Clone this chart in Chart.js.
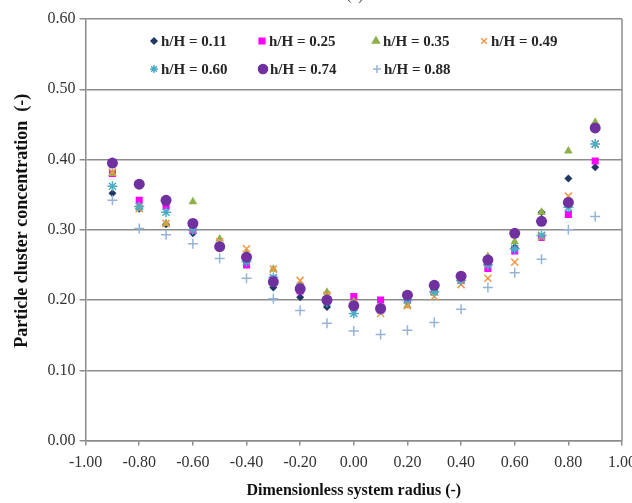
<!DOCTYPE html>
<html>
<head>
<meta charset="utf-8">
<script src="https://cdn.jsdelivr.net/npm/chart.js@4.4.0/dist/chart.umd.min.js"></script>
<style>
  html, body { margin: 0; padding: 0; background: #fff; }
  #wrap { width: 632px; height: 503px; }
</style>
</head>
<body>
<div id="wrap"><canvas id="myChart" width="632" height="503"></canvas></div>
<script>
// dimensionless radius positions
var radius = [-0.9, -0.8, -0.7, -0.6, -0.5, -0.4, -0.3, -0.2, -0.1, 0, 0.1, 0.2, 0.3, 0.4, 0.5, 0.6, 0.7, 0.8, 0.9];

// concentration, one list per height
var h011 = [0.352, 0.330, 0.308, 0.295, 0.275, 0.255, 0.218, 0.204, 0.190, 0.195, 0.190, 0.200, 0.210, 0.228, 0.250, 0.275, 0.325, 0.373, 0.389];
var h025 = [0.380, 0.342, 0.334, 0.299, 0.276, 0.250, 0.230, 0.213, 0.200, 0.205, 0.200, 0.200, 0.212, 0.228, 0.245, 0.270, 0.289, 0.322, 0.398];
var h035 = [0.380, 0.333, 0.309, 0.340, 0.287, 0.266, 0.244, 0.222, 0.211, 0.198, 0.190, 0.192, 0.210, 0.232, 0.262, 0.283, 0.325, 0.412, 0.453];
var h049 = [0.382, 0.330, 0.309, 0.300, 0.283, 0.273, 0.244, 0.228, 0.207, 0.195, 0.181, 0.192, 0.205, 0.222, 0.231, 0.254, 0.290, 0.348, 0.422];
var h060 = [0.362, 0.333, 0.325, 0.300, 0.277, 0.255, 0.232, 0.218, 0.197, 0.181, 0.186, 0.200, 0.212, 0.228, 0.250, 0.273, 0.292, 0.332, 0.422];
var h074 = [0.395, 0.365, 0.342, 0.309, 0.276, 0.261, 0.226, 0.216, 0.200, 0.192, 0.188, 0.207, 0.221, 0.234, 0.257, 0.295, 0.312, 0.339, 0.445];
var h088 = [0.342, 0.302, 0.293, 0.280, 0.259, 0.231, 0.202, 0.185, 0.167, 0.156, 0.151, 0.157, 0.168, 0.187, 0.218, 0.239, 0.258, 0.300, 0.319];

var seriesLabels = ['h/H = 0.11', 'h/H = 0.25', 'h/H = 0.35', 'h/H = 0.49', 'h/H = 0.60', 'h/H = 0.74', 'h/H = 0.88'];
var seriesValues = [h011, h025, h035, h049, h060, h074, h088];

// marker look for each series
var markers = [
  { style: 'rectRot', color: '#1F3864', r: 4, fill: true },
  { style: 'rect', color: '#FF00FF', r: 5, fill: true },
  { style: 'triangle', color: '#8DB04A', r: 5, fill: true },
  { style: 'crossRot', color: '#F79646', r: 5, fill: false },
  { style: 'star', color: '#4BACC6', r: 5, fill: false },
  { style: 'circle', color: '#7030A0', r: 5.5, fill: true },
  { style: 'cross', color: '#95B3D7', r: 5, fill: false }
];

var datasets = seriesValues.map(function (vals, i) {
  var m = markers[i];
  return {
    label: seriesLabels[i],
    data: vals.map(function (v, j) { return { x: radius[j], y: v }; }),
    showLine: false,
    pointStyle: m.style,
    pointRadius: m.r,
    pointHoverRadius: m.r,
    pointBackgroundColor: m.fill ? m.color : 'transparent',
    pointBorderColor: m.color,
    pointBorderWidth: m.fill ? 0 : 1.5,
    order: 6 - i   // later series drawn on top, like Excel
  };
});

var fmt = function (v) {
  if (Math.abs(v) < 1e-9) v = 0;
  return v.toFixed(2);
};

// legend drawn inside the plot area, Excel style
var insideLegend = {
  id: 'insideLegend',
  afterDraw: function (chart) {
    var c = chart.ctx, a = chart.chartArea;
    // right frame line
    c.save();
    c.strokeStyle = '#8c8c8c';
    c.lineWidth = 1.5;
    c.beginPath();
    c.moveTo(a.right, a.top);
    c.lineTo(a.right, a.bottom);
    c.stroke();

    var pos = [
      [154, 41], [262, 41], [376, 41], [484, 41],
      [154, 69], [263, 69], [377, 69]
    ];
    c.font = 'bold 15px "Liberation Serif", "Times New Roman", serif';
    c.textBaseline = 'middle';
    pos.forEach(function (p, i) {
      var m = markers[i];
      c.fillStyle = m.fill ? m.color : 'transparent';
      c.strokeStyle = m.color;
      c.lineWidth = m.fill ? 0 : 1.5;
      Chart.helpers.drawPoint(c, { pointStyle: m.style, radius: m.r - 1, borderWidth: c.lineWidth }, p[0], p[1]);
      if (m.fill) c.fill();
      c.fillStyle = '#262626';
      c.fillText(seriesLabels[i], p[0] + 7, p[1] + 1);
    });

    // clipped panel tag at the very top
    c.textAlign = 'center';
    c.font = '15px "Liberation Serif", serif';
    c.fillStyle = '#555';
    c.fillText('(a)', 355, -4);
    c.restore();
  }
};

var ctx = document.getElementById('myChart').getContext('2d');
var myChart = new Chart(ctx, {
  type: 'scatter',
  data: { datasets: datasets },
  plugins: [insideLegend],
  options: {
    responsive: false,
    animation: false,
    layout: { padding: { top: 19, right: 0, left: 12, bottom: 3 } },
    plugins: {
      legend: { display: false },
      tooltip: { enabled: false }
    },
    scales: {
      x: {
        type: 'linear',
        min: -1,
        max: 1,
        // let the last label run off the edge like the original
        afterFit: function (s) { s.paddingRight = 10; },
        ticks: {
          stepSize: 0.2,
          callback: fmt,
          color: '#333',
          font: { family: '"Liberation Serif", serif', size: 16 },
          padding: 8,
          maxRotation: 0
        },
        grid: { drawOnChartArea: false, color: '#8c8c8c', tickLength: 5, lineWidth: 1.5 },
        border: { color: '#8c8c8c', width: 1.5 },
        title: {
          display: true,
          text: 'Dimensionless system radius (-)',
          color: '#111',
          font: { family: '"Liberation Serif", serif', size: 16, weight: 'bold' },
          padding: { top: 0, bottom: 0 }
        }
      },
      y: {
        min: 0,
        max: 0.6,
        ticks: {
          stepSize: 0.1,
          callback: fmt,
          color: '#333',
          font: { family: '"Liberation Serif", serif', size: 16 },
          padding: 4
        },
        grid: { color: '#8c8c8c', tickLength: 6, lineWidth: 1.5 },
        border: { color: '#8c8c8c', width: 1.5 },
        title: {
          display: true,
          text: '    Particle cluster concentration  (-)',
          color: '#111',
          font: { family: '"Liberation Serif", serif', size: 18, weight: 'bold' },
          padding: { top: 0, bottom: 10 }
        }
      }
    }
  }
});
</script>
</body>
</html>
